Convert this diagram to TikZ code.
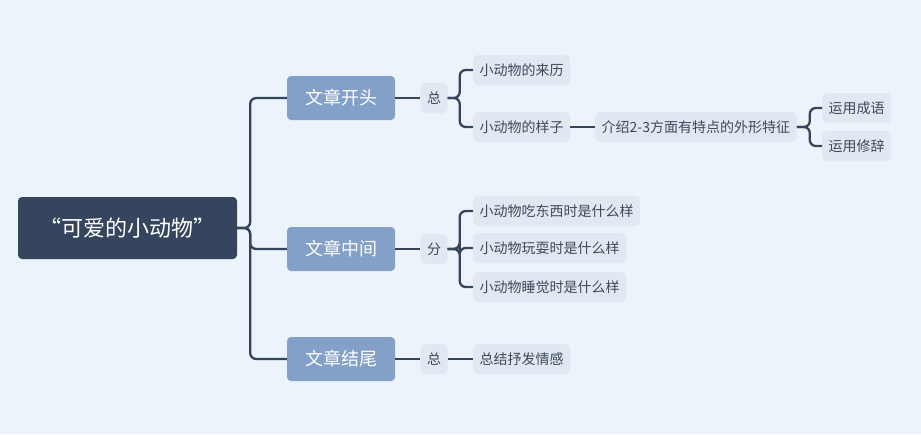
\documentclass[tikz,border=0pt]{standalone}
\usepackage{fontspec}
\newfontfamily\cjk{Noto Sans CJK SC}
\definecolor{bgcol}{HTML}{EDF3FA}
\definecolor{rootcol}{HTML}{35455D}
\definecolor{topiccol}{HTML}{83A0C8}
\definecolor{leafcol}{HTML}{E1E8F1}
\definecolor{leaftext}{HTML}{3D4A5C}
\tikzset{
	rootbox/.style={fill=rootcol, text=white, rounded corners=4pt, minimum width=219pt, minimum height=62pt, font=\cjk\fontsize{22}{26}\selectfont},
	topicbox/.style={fill=topiccol, text=white, rounded corners=4pt, minimum width=108pt, minimum height=44pt, font=\cjk\fontsize{18}{21}\selectfont},
	leafbox/.style={fill=leafcol, text=leaftext, rounded corners=5pt, inner xsep=6.5pt, minimum height=30pt, font=\cjk\fontsize{14}{16}\selectfont},
	link/.style={draw=rootcol, line width=2.3pt, rounded corners=6pt}
}
\begin{document}
\begin{tikzpicture}[x=1pt, y=-1pt]
	\fill[bgcol] (0,0) rectangle (921,434);
	\useasboundingbox (0,0) rectangle (921,434);
	
	%main topic
	\node[rootbox] (root) at (127.5,228) {“可爱的小动物”};
	
	%first level
	\node[topicbox] (open) at (341,98) {文章开头};
	\node[topicbox] (middle) at (341,249) {文章中间};
	\node[topicbox] (close) at (341,359) {文章结尾};
	
	\node[leafbox] (sum1) at (434,98) {总};
	\node[leafbox] (split) at (434,249) {分};
	\node[leafbox] (sum2) at (434,359) {总};
	
	%leaves
	\node[leafbox, anchor=west] (origin) at (473,70) {小动物的来历};
	\node[leafbox, anchor=west] (looks) at (473,127) {小动物的样子};
	\node[leafbox, anchor=west] (feature) at (595,127) {介绍2-3方面有特点的外形特征};
	\node[leafbox, anchor=west] (idiom) at (822,108) {运用成语};
	\node[leafbox, anchor=west] (rhetoric) at (822,146) {运用修辞};
	
	\node[leafbox, anchor=west] (eat) at (473,211) {小动物吃东西时是什么样};
	\node[leafbox, anchor=west] (play) at (473,248) {小动物玩耍时是什么样};
	\node[leafbox, anchor=west] (sleep) at (473,287) {小动物睡觉时是什么样};
	
	\node[leafbox, anchor=west] (feel) at (473,359) {总结抒发情感};
	
	%connectors
	\foreach \t in {open, middle, close}
		\draw[link] (root.east) -- ([xshift=13pt]root.east) |- (\t.west);
	
	\draw[link] (open.east) -- (sum1.west);
	\draw[link] (middle.east) -- (split.west);
	\draw[link] (close.east) -- (sum2.west);
	
	\foreach \t in {origin, looks}
		\draw[link] (sum1.east) -- ([xshift=12pt]sum1.east) |- (\t.west);
	\foreach \t in {eat, play, sleep}
		\draw[link] (split.east) -- ([xshift=12pt]split.east) |- (\t.west);
	\draw[link] (sum2.east) -- (feel.west);
	
	\draw[link] (looks.east) -- (feature.west);
	\foreach \t in {idiom, rhetoric}
		\draw[link] (feature.east) -- ([xshift=13pt]feature.east) |- (\t.west);
\end{tikzpicture}
\end{document}
